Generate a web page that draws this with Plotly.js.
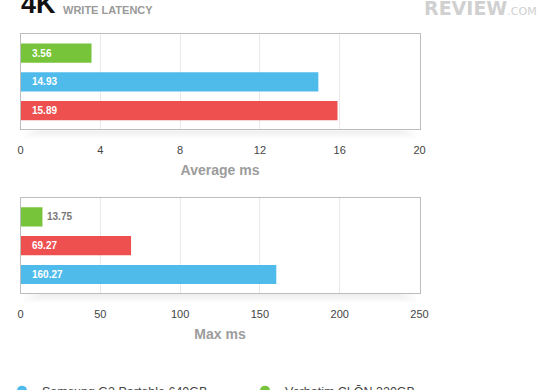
<!DOCTYPE html>
<html>
<head>
<meta charset="utf-8">
<script src="https://cdn.plot.ly/plotly-3.0.1.min.js"></script>
<style>html,body{margin:0;padding:0;background:#fff}#chart{width:560px;height:390px}</style>
</head>
<body>
<div id="chart"></div>
<script>
// Series
const seriesNames = ['Samsung G2 Portable 640GB', 'Verbatim CLŌN 320GB', 'Other drive'];
const seriesColors = ['#4fbbeb', '#77c43b', '#ee5050'];
const avgMs = [14.93, 3.56, 15.89];
const maxMs = [160.27, 13.75, 69.27];
const avgTicks = [0, 4, 8, 12, 16, 20];
const maxTicks = [0, 50, 100, 150, 200, 250];
const avgTitle = 'Average ms';
const maxTitle = 'Max ms';

const W = 560, H = 390;
const xDom = [20.5 / W, 419.5 / W];
const topDom = [(H - 134) / H, (H - 35) / H];
const botDom = [(H - 304) / H, (H - 205) / H];

function order(vals) {
  return vals.map((v, i) => i).sort((a, b) => vals[a] - vals[b]);
}

const traces = [];
const annotations = [];
function addChart(vals, xa, ya, range) {
  const idx = order(vals);
  traces.push({
    type: 'bar', orientation: 'h',
    x: idx.map(i => vals[i]),
    y: idx.map(i => seriesNames[i]),
    marker: {color: idx.map(i => seriesColors[i])},
    width: 0.667,
    xaxis: xa, yaxis: ya, showlegend: false, hoverinfo: 'skip'
  });
  idx.forEach(i => {
    const inside = vals[i] / range > 0.12;
    annotations.push({
      xref: xa, yref: ya,
      x: inside ? 0 : vals[i], y: seriesNames[i],
      text: vals[i].toFixed(2), showarrow: false,
      xanchor: 'left', xshift: inside ? 9 : 3,
      font: {family: 'Liberation Sans, Arial, sans-serif', size: 10, color: inside ? '#ffffff' : '#777777', weight: 'bold'}
    });
  });
}
addChart(avgMs, 'x', 'y', 20);
addChart(maxMs, 'x2', 'y2', 250);

// legend-only traces (circle markers)
seriesNames.forEach((n, i) => {
  traces.push({type: 'scatter', mode: 'markers', x: [null], y: [null], name: n,
    marker: {color: seriesColors[i], size: 10, symbol: 'circle'}, xaxis: 'x', yaxis: 'y', hoverinfo: 'skip'});
});

function xaxis(range, ticks, title, anchor) {
  return {
    domain: xDom, anchor: anchor, range: range, tickvals: ticks, ticktext: ticks.map(String),
    showgrid: true, gridcolor: '#e9e9e9', gridwidth: 1, zeroline: false,
    showline: true, mirror: true, linecolor: '#bdbdbd', linewidth: 1,
    ticks: '', ticklabelstandoff: 11,
    tickfont: {family: 'Liberation Sans, Arial, sans-serif', size: 11, color: '#444'},
    title: {text: title, standoff: 9, font: {family: 'Liberation Sans, Arial, sans-serif', size: 14, color: '#9c9c9c', weight: 'bold'}},
    fixedrange: true
  };
}
function yaxis(dom, anchor) {
  return {
    domain: dom, anchor: anchor, type: 'category', range: [2.645, -0.67],
    showticklabels: false, showgrid: false, zeroline: false,
    showline: true, mirror: true, linecolor: '#bdbdbd', linewidth: 1, ticks: '', fixedrange: true
  };
}

function shadow(y0px) {
  const s = [];
  for (let k = 0; k < 5; k++) {
    s.push({type: 'rect', xref: 'paper', yref: 'paper', layer: 'below',
      x0: (24 + k * 4) / W, x1: (416 - k * 4) / W,
      y0: (H - (y0px + 9 - k * 1.6)) / H, y1: (H - y0px) / H,
      fillcolor: 'rgba(0,0,0,0.013)', line: {width: 0}});
  }
  return s;
}

annotations.push(
  {xref: 'paper', yref: 'paper', x: 19 / W, y: (H - 16) / H, xanchor: 'left', yanchor: 'bottom', yshift: -6,
   text: '<b>4K</b>', showarrow: false, font: {family: 'Liberation Sans, Arial, sans-serif', size: 27, color: '#111'}},
  {xref: 'paper', yref: 'paper', x: 61 / W, y: (H - 16) / H, xanchor: 'left', yanchor: 'bottom', yshift: -3,
   text: '<b>WRITE LATENCY</b>', showarrow: false, font: {family: 'Liberation Sans, Arial, sans-serif', size: 11, color: '#9a9a9a'}},
  {xref: 'paper', yref: 'paper', x: 422 / W, y: (H - 16) / H, xanchor: 'left', yanchor: 'bottom', yshift: -6,
   text: '<b>REVIEW</b><span style="font-size:11px">.COM</span>', showarrow: false,
   font: {family: 'DejaVu Sans, sans-serif', size: 19, color: '#d0d0d0'}}
);

const layout = {
  width: W, height: H,
  margin: {l: 0, r: 0, t: 0, b: 0},
  paper_bgcolor: '#fff', plot_bgcolor: '#fff',
  bargap: 0.33,
  xaxis: xaxis([0, 20], avgTicks, avgTitle, 'y'),
  yaxis: yaxis(topDom, 'x'),
  xaxis2: xaxis([0, 250], maxTicks, maxTitle, 'y2'),
  yaxis2: yaxis(botDom, 'x2'),
  showlegend: true,
  legend: {orientation: 'h', xref: 'paper', yref: 'container', x: 2 / W, y: 14 / H, yanchor: 'top',
    entrywidth: 198, entrywidthmode: 'pixels', itemwidth: 30,
    font: {family: 'Liberation Sans, Arial, sans-serif', size: 12.5, color: '#444'}, bgcolor: 'rgba(0,0,0,0)'},
  annotations: annotations,
  shapes: shadow(135).concat(shadow(305))
};

Plotly.newPlot('chart', traces, layout, {staticPlot: true, displayModeBar: false});
</script>
</body>
</html>
